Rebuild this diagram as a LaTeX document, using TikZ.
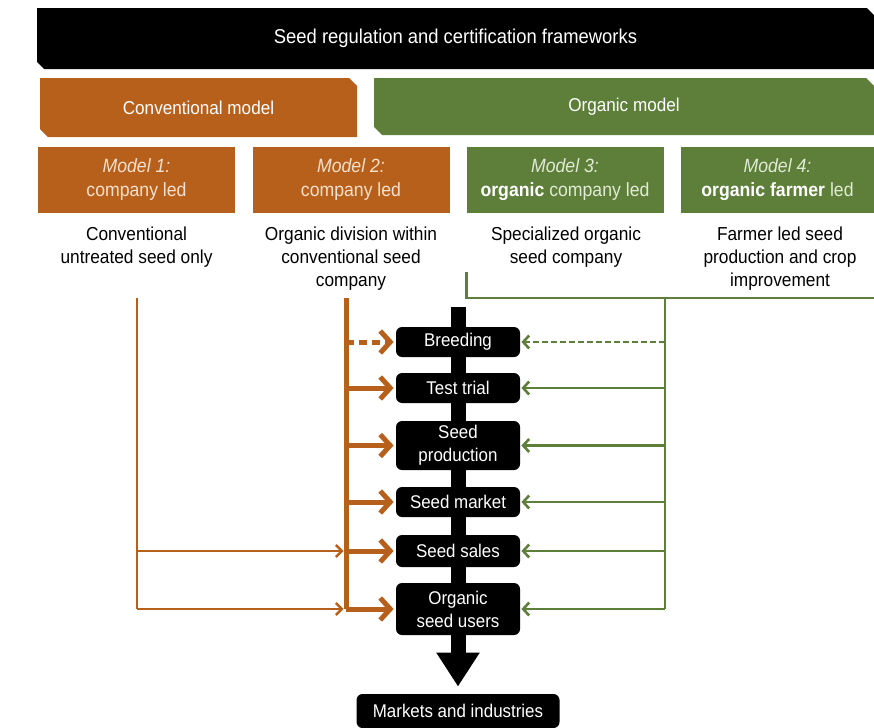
\documentclass[tikz,border=0pt]{standalone}
\usepackage{fontspec}
\setmainfont[FakeStretch=0.92]{Liberation Sans}
\usetikzlibrary{arrows.meta,positioning,shapes.misc,backgrounds}
\definecolor{convorange}{RGB}{183,96,28}
\definecolor{orggreen}{RGB}{94,127,58}
\definecolor{convlight}{RGB}{248,224,204}
\definecolor{orglight}{RGB}{224,234,212}

\begin{document}
\begin{tikzpicture}[x=0.5pt,y=-0.5pt,
      frame_box/.style={
         chamfered rectangle,
         chamfered rectangle corners={north east,south west},
         chamfered rectangle xsep=1.8pt,
         chamfered rectangle ysep=1.8pt,
         fill=black,
         text=white,
         inner sep=0pt,
         font=\fontsize{10}{12}\selectfont},
      head_box/.style={
         chamfered rectangle,
         chamfered rectangle corners={north east,south west},
         chamfered rectangle xsep=2pt,
         chamfered rectangle ysep=2pt,
         inner sep=0pt,
         text=white,
         font=\fontsize{9.3}{12}\selectfont},
      model_box/.style={
         rectangle,
         inner sep=0pt,
         minimum width=98.5pt,
         minimum height=33pt,
         align=center,
         font=\fontsize{9.6}{12}\selectfont},
      desc_text/.style={
         anchor=north,
         inner sep=0pt,
         align=center,
         font=\fontsize{9.4}{11.5}\selectfont},
      step_box/.style={
         rectangle,
         rounded corners=3pt,
         fill=black,
         text=white,
         minimum width=62pt,
         inner sep=0pt,
         align=center,
         font=\fontsize{9.2}{11.5}\selectfont},
      conv_line/.style={
         draw=convorange,
         line width=1.2pt},
      conv_thin/.style={
         draw=convorange,
         line width=1.2pt,
         -{Straight Barb[length=3pt,width=6pt]},
         shorten >=1.2pt},
      conv_arrow/.style={
         draw=convorange,
         line width=2.5pt,
         -{Straight Barb[length=5pt,width=11pt]},
         shorten >=1pt},
      org_line/.style={
         draw=orggreen,
         line width=1.3pt},
      org_arrow/.style={
         draw=orggreen,
         line width=1.3pt,
         -{Straight Barb[length=3pt,width=6.5pt]},
         shorten >=0.5pt}
]
      \useasboundingbox (0,0) rectangle (874,728);

      %frameworks and models
      \node[frame_box,minimum width=418.5pt,minimum height=30.5pt] (frame) at (455.5,38.5) {Seed regulation and certification frameworks};
      \node[head_box,fill=convorange,minimum width=158.5pt,minimum height=29.5pt] (conv) at (198.5,107.5) {Conventional model};
      \node[head_box,fill=orggreen,minimum width=250pt,minimum height=28.5pt] (org) at (624,106.5) {Organic model};

      \node[model_box,fill=convorange,text=convlight] (m1) at (136.5,180) {\textit{Model 1:}\\company led};
      \node[model_box,fill=convorange,text=convlight] (m2) at (351,180) {\textit{Model 2:}\\company led};
      \node[model_box,fill=orggreen,text=orglight] (m3) at (565,180) {\textit{Model 3:}\\\textcolor{white}{\textbf{organic}} company led};
      \node[model_box,fill=orggreen,text=orglight,minimum width=96.5pt] (m4) at (777.5,180) {\textit{Model 4:}\\\textcolor{white}{\textbf{organic farmer}} led};

      \node[desc_text] (d1) at (136.5,226) {Conventional\\untreated seed only};
      \node[desc_text] (d2) at (351,226) {Organic division within\\conventional seed\\company};
      \node[desc_text] (d3) at (566,226) {Specialized organic\\seed company};
      \node[desc_text] (d4) at (780,226) {Farmer led seed\\production and crop\\improvement};

      %chain
      \node[step_box,minimum height=15pt] (breed) at (458,342) {Breeding};
      \node[step_box,minimum height=15pt] (trial) at (458,388) {Test trial};
      \node[step_box,minimum height=24.5pt] (prod) at (458,445.5) {Seed\\production};
      \node[step_box,minimum height=15pt] (market) at (458,502) {Seed market};
      \node[step_box,minimum height=16pt] (sales) at (458,551) {Seed sales};
      \node[step_box,minimum height=26pt] (users) at (458,609) {Organic\\seed users};
      \node[step_box,minimum width=101.5pt,minimum height=17pt] (markets) at (458,711) {Markets and industries};

      \coordinate (stemtop) at (458,307);
      \coordinate (m1top) at (137,298);
      \coordinate (m2top) at (346,298);
      \coordinate (m3top) at (466.5,272);
      \coordinate (m4top) at (665,298);
      \coordinate (orgend) at (874,298);

      \begin{pgfonlayer}{background}
        \draw[line width=7.5pt,-{Triangle[length=17pt,width=20.5pt]},shorten >=3.5pt] (stemtop) -- (markets.north);
      \end{pgfonlayer}

      %conventional side
      \draw[conv_line] (m1top) -- (m1top |- users);
      \draw[conv_line,line width=2.5pt] (m2top) -- (m2top |- users);
      \foreach \s in {sales,users}
        \draw[conv_thin] (m1top |- \s) -- (m2top |- \s);
      \draw[conv_arrow,dash pattern=on 4pt off 2.5pt] (m2top |- breed) -- (breed);
      \foreach \s in {trial,prod,market,sales,users}
        \draw[conv_arrow] (m2top |- \s) -- (\s);

      %organic side
      \draw[org_line] (m3top) |- (orgend);
      \draw[org_line] (m4top) -- (m4top |- users);
      \draw[org_arrow,dash pattern=on 3pt off 1.5pt] (m4top |- breed) -- (breed);
      \foreach \s in {trial,prod,market,sales,users}
        \draw[org_arrow] (m4top |- \s) -- (\s);

\end{tikzpicture}
\end{document}
